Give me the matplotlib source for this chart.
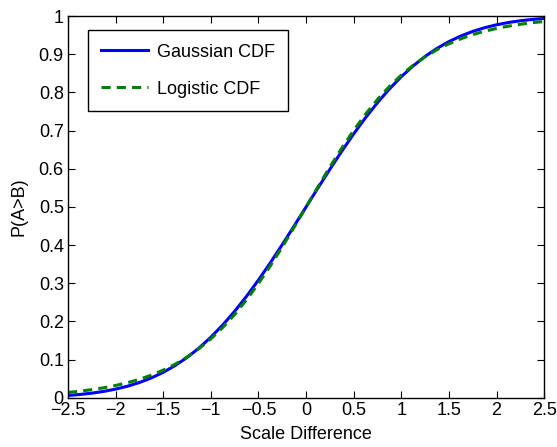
import matplotlib.pyplot as plt

plt.rcParams['font.family'] = ['Liberation Sans', 'DejaVu Sans']

x = [-2.5, -2.375, -2.25, -2.125, -2.0, -1.875, -1.75, -1.625, -1.5, -1.375,
     -1.25, -1.125, -1.0, -0.875, -0.75, -0.625, -0.5, -0.375, -0.25, -0.125,
     0.0, 0.125, 0.25, 0.375, 0.5, 0.625, 0.75, 0.875, 1.0, 1.125,
     1.25, 1.375, 1.5, 1.625, 1.75, 1.875, 2.0, 2.125, 2.25, 2.375, 2.5]

gaussian = [0.0062, 0.0088, 0.0122, 0.0168, 0.0228, 0.0304, 0.0401, 0.0521, 0.0668, 0.0846,
            0.1056, 0.1303, 0.1587, 0.1908, 0.2266, 0.2660, 0.3085, 0.3538, 0.4013, 0.4503,
            0.5, 0.5497, 0.5987, 0.6462, 0.6915, 0.7340, 0.7734, 0.8092, 0.8413, 0.8697,
            0.8944, 0.9154, 0.9332, 0.9479, 0.9599, 0.9696, 0.9772, 0.9832, 0.9878, 0.9912, 0.9938]

logistic = [0.0141, 0.0173, 0.0214, 0.0263, 0.0323, 0.0396, 0.0485, 0.0594, 0.0724, 0.0880,
            0.1067, 0.1287, 0.1545, 0.1843, 0.2184, 0.2568, 0.2994, 0.3458, 0.3953, 0.4471,
            0.5, 0.5529, 0.6047, 0.6542, 0.7006, 0.7432, 0.7816, 0.8157, 0.8455, 0.8713,
            0.8933, 0.9120, 0.9276, 0.9406, 0.9515, 0.9604, 0.9677, 0.9737, 0.9786, 0.9827, 0.9859]

xticks = [-2.5, -2, -1.5, -1, -0.5, 0, 0.5, 1, 1.5, 2, 2.5]
xticklabels = ['\u22122.5', '\u22122', '\u22121.5', '\u22121', '\u22120.5', '0', '0.5', '1', '1.5', '2', '2.5']
yticks = [0, 0.1, 0.2, 0.3, 0.4, 0.5, 0.6, 0.7, 0.8, 0.9, 1]
yticklabels = ['0', '0.1', '0.2', '0.3', '0.4', '0.5', '0.6', '0.7', '0.8', '0.9', '1']

fig = plt.figure(figsize=(5.57, 4.47), dpi=100)
ax = fig.add_axes([0.122, 0.110, 0.855, 0.854])

ax.plot(x, gaussian, color='blue', lw=2.2, label='Gaussian CDF')
ax.plot(x, logistic, color='green', lw=2.2, ls=(0, (3, 2)), label='Logistic CDF')

ax.set_xlim(-2.5, 2.5)
ax.set_ylim(0, 1)
ax.set_xticks(xticks)
ax.set_xticklabels(xticklabels)
ax.set_yticks(yticks)
ax.set_yticklabels(yticklabels)
ax.tick_params(direction='in', top=True, right=True, labelsize=13, length=5, pad=3)
for s in ax.spines.values():
    s.set_linewidth(1.0)

ax.set_xlabel('Scale Difference', fontsize=13, labelpad=5)
ax.set_ylabel('P(A>B)', fontsize=13, labelpad=8)

leg = ax.legend(loc='upper left', bbox_to_anchor=(0.042, 0.963), borderaxespad=0,
                fontsize=13, fancybox=False, framealpha=1, edgecolor='black',
                handlelength=2.6, handletextpad=0.45, borderpad=0.75, labelspacing=1.1)
leg.get_frame().set_linewidth(1.0)

fig.savefig('out.png', dpi=100)
